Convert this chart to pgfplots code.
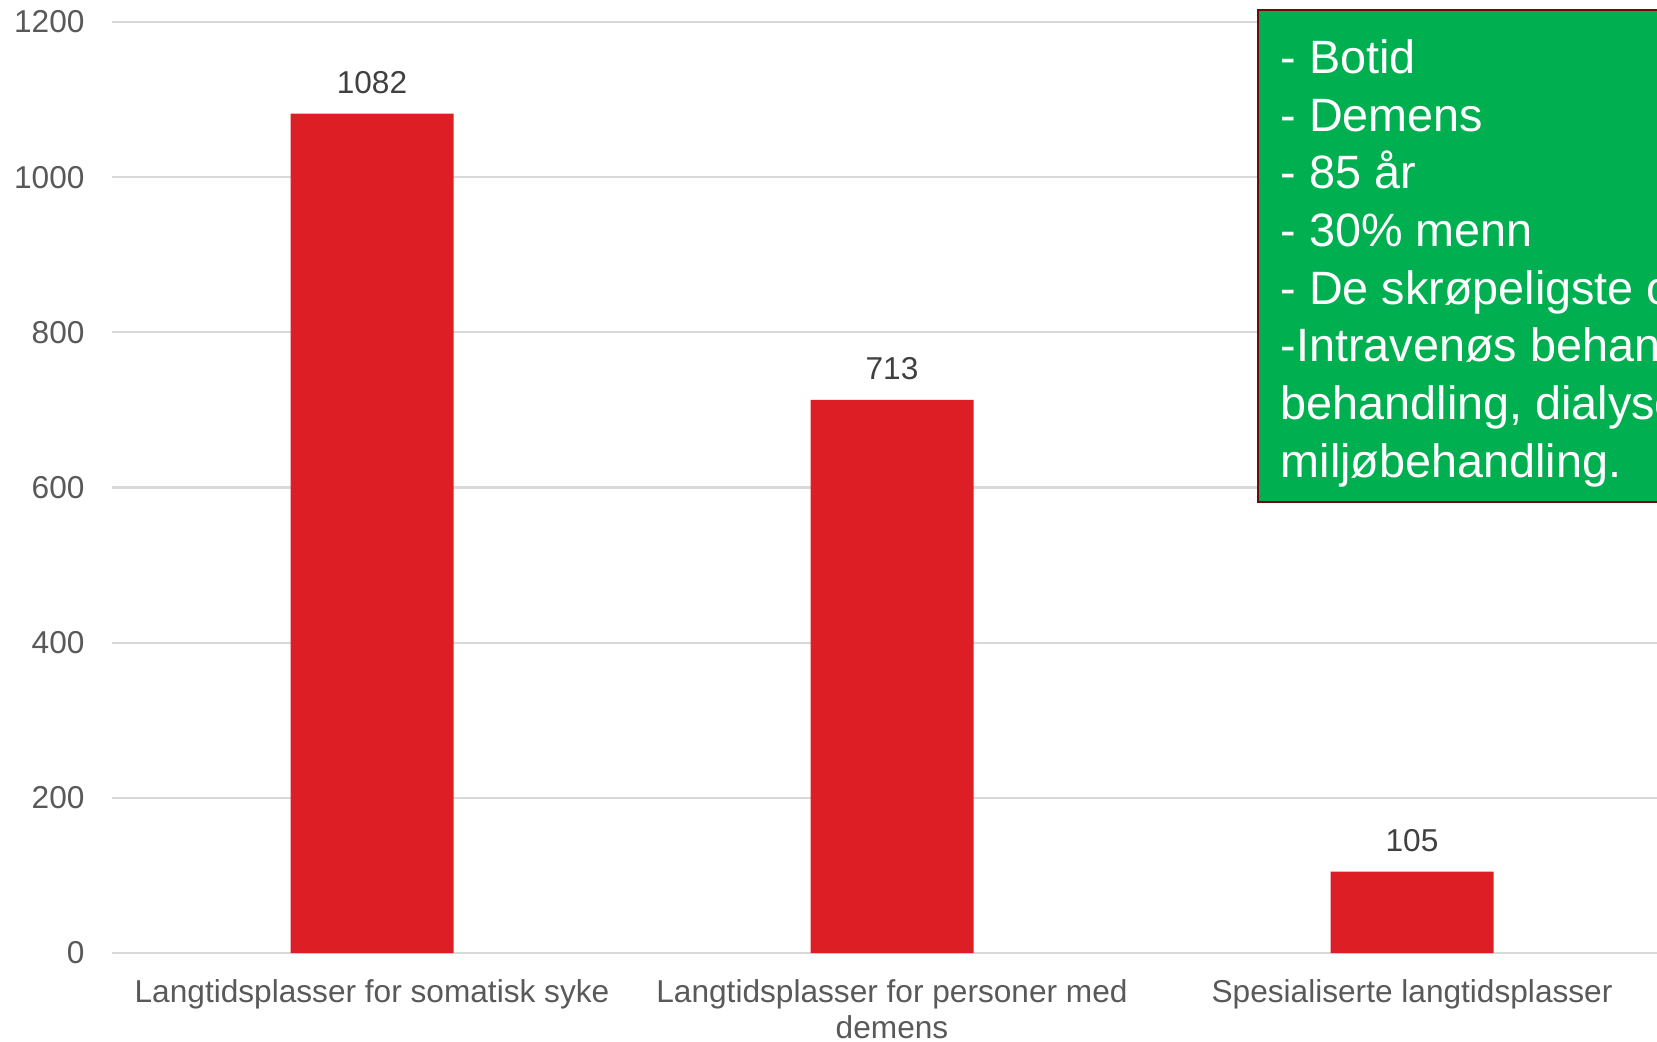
\documentclass[border=0pt]{standalone}
\usepackage{fontspec}
\setmainfont{Liberation Sans}
\usepackage{pgfplots}
\pgfplotsset{compat=1.18}
\definecolor{barred}{HTML}{DD1E24}
\definecolor{gridgray}{HTML}{D9D9D9}
\definecolor{ticktext}{HTML}{595959}
\definecolor{labeltext}{HTML}{404040}
\definecolor{boxgreen}{HTML}{00B050}
\definecolor{boxborder}{HTML}{6E0A0E}
\hyphenpenalty=10000
\exhyphenpenalty=10000
\begin{document}
\begin{tikzpicture}[x=1cm,y=1cm]
\useasboundingbox (0,0) rectangle (16.57,10.41);
\clip (0,0) rectangle (16.57,10.41);
\begin{axis}[
  at={(1.12cm,0.88cm)}, anchor=south west,
  scale only axis, width=15.6cm, height=9.31cm,
  xmin=-0.5, xmax=2.5, ymin=0, ymax=1200,
  ybar, bar width=1.63cm,
  xtick={0,1,2},
  xticklabels={Langtidsplasser for somatisk syke, {Langtidsplasser for personer med\\demens}, Spesialiserte langtidsplasser},
  ytick={0,200,400,600,800,1000,1200},
  axis line style={draw=none},
  major tick length=0pt,
  ymajorgrids, grid style={gridgray, line width=0.6pt},
  /pgf/number format/assume math mode=true,
  /pgf/number format/1000 sep={},
  tick label style={text=ticktext, font=\fontsize{9}{10.3}\selectfont},
  yticklabel style={xshift=-4.3pt},
  xticklabel style={align=center, yshift=-4pt},
  nodes near coords,
  every node near coord/.append style={text=labeltext, font=\fontsize{9}{10.3}\selectfont, anchor=base, yshift=5.7pt},
]
\addplot[fill=barred, draw=none] coordinates {(0,1082) (1,713) (2,105)};
\end{axis}
\draw[fill=boxgreen, draw=boxborder, line width=0.8pt] (12.58,5.39) rectangle (17.5,10.31);
\node[anchor=north west, inner sep=0pt, align=left, text=white, font=\fontsize{13.3}{16.4}\selectfont] at (12.80,10.02)
  {- Botid\\- Demens\\- 85 år\\- 30\% menn\\- De skrøpeligste og sykeste\\-Intravenøs behandling, lindrende\\behandling, dialyse og\\miljøbehandling.};
\end{tikzpicture}
\end{document}
